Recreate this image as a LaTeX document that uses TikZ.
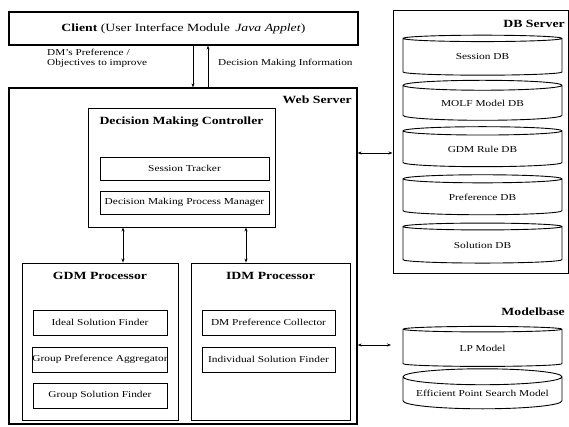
\documentclass[tikz,border=0pt]{standalone}
\usepackage{fontspec}
\setmainfont{Liberation Serif}[FakeStretch=1.25]
\usepackage{tikz}
\usetikzlibrary{arrows.meta,positioning,shapes.geometric}

\begin{document}
\begin{tikzpicture}[x=1pt, y=-1pt, font=\fontsize{9.1}{11}\selectfont,
  outerbox/.style={draw, line width=1.3pt, inner sep=0pt},
  innerbox/.style={draw, line width=0.9pt, inner sep=0pt},
  boxtitle/.style={font=\fontsize{11}{13}\selectfont\bfseries},
  note/.style={font=\fontsize{9}{10}\selectfont, inner sep=0pt},
  dbcyl/.style={draw, line width=0.9pt, cylinder, shape border rotate=90,
                aspect=0.12, minimum width=159pt, minimum height=40pt, inner sep=0pt},
  link/.style={line width=0.8pt, -{Stealth[length=4pt,width=3pt]}},
  dlink/.style={line width=0.8pt, {Stealth[length=4pt,width=3pt]}-{Stealth[length=4pt,width=3pt]}}]
  \useasboundingbox (0,0) rectangle (569,426);

  % client and web server
  \node[outerbox, minimum width=349pt, minimum height=33pt, font=\fontsize{11}{13}\selectfont]
    (client) at (183.5,28.5) {\textbf{Client} (User Interface Module\enspace\textit{Java Applet})};
  \node[outerbox, minimum width=348pt, minimum height=336pt] (web) at (183,256) {};
  \node[boxtitle, anchor=east, inner sep=0pt] (webname) at (352,100) {Web Server};

  \coordinate (downfoot) at (193,0);
  \coordinate (upfoot) at (208,0);
  \draw[link] (downfoot |- client.south) -- (downfoot |- web.north);
  \draw[link] (upfoot |- web.north) -- (upfoot |- client.south);
  \node[note, align=left, anchor=west] (prefnote) at (47,58.5) {DM's Preference /\\Objectives to improve};
  \node[note, anchor=west] (infonote) at (218,63) {Decision Making Information};

  % decision making controller
  \node[innerbox, minimum width=187pt, minimum height=119pt] (dmc) at (181.5,167.5) {};
  \node[boxtitle] (dmcname) at (181.5,122) {Decision Making Controller};
  \node[innerbox, minimum width=169pt, minimum height=23pt] (tracker) at (184.5,168.5) {Session Tracker};
  \node[innerbox, minimum width=169pt, minimum height=23pt] (dmpm) at (184.5,202.5) {Decision Making Process Manager};

  % GDM and IDM processors
  \node[innerbox, minimum width=156pt, minimum height=157pt] (gdm) at (100,341.5) {};
  \node[boxtitle] (gdmname) at (100,276) {GDM Processor};
  \foreach \y/\n/\t in {322.5/ideal/Ideal Solution Finder,
                        359.5/aggr/Group Preference Aggregator,
                        395.5/gsf/Group Solution Finder} {
    \node[innerbox, minimum width=134pt, minimum height=25pt] (\n) at (100,\y) {\t};
  }
  \node[innerbox, minimum width=159pt, minimum height=157pt] (idm) at (270.5,341.5) {};
  \node[boxtitle] (idmname) at (270.5,276) {IDM Processor};
  \foreach \y/\n/\t in {322.5/collector/DM Preference Collector,
                        359.5/isf/Individual Solution Finder} {
    \node[innerbox, minimum width=133pt, minimum height=25pt] (\n) at (268.5,\y) {\t};
  }

  \coordinate (gdmlink) at (123,0);
  \coordinate (idmlink) at (246,0);
  \draw[dlink] (gdmlink |- dmc.south) -- (gdmlink |- gdm.north);
  \draw[dlink] (idmlink |- dmc.south) -- (idmlink |- idm.north);

  % DB server
  \node[outerbox, line width=1pt, minimum width=175pt, minimum height=263pt] (dbserver) at (480.5,141.5) {};
  \node[boxtitle, anchor=east, inner sep=0pt] (dbname) at (565,24) {DB Server};
  \foreach \y/\n/\t in {57/sessdb/Session DB, 103/molfdb/MOLF Model DB,
                        149/ruledb/GDM Rule DB, 197/prefdb/Preference DB,
                        245/soldb/Solution DB} {
    \node[dbcyl] (\n) at (482.5,\y) {\t};
  }
  \coordinate (dbport) at (0,153);
  \draw[dlink] (web.east |- dbport) -- (dbserver.west |- dbport);

  % modelbase
  \node[boxtitle, anchor=east, inner sep=0pt] (mbname) at (565,312) {Modelbase};
  \node[dbcyl] (lp) at (482.5,348) {LP Model};
  \node[dbcyl] (eps) at (482.5,393) {Efficient Point Search Model};
  \coordinate (mbport) at (391,345);
  \draw[dlink] (web.east |- mbport) -- (mbport);
\end{tikzpicture}
\end{document}
